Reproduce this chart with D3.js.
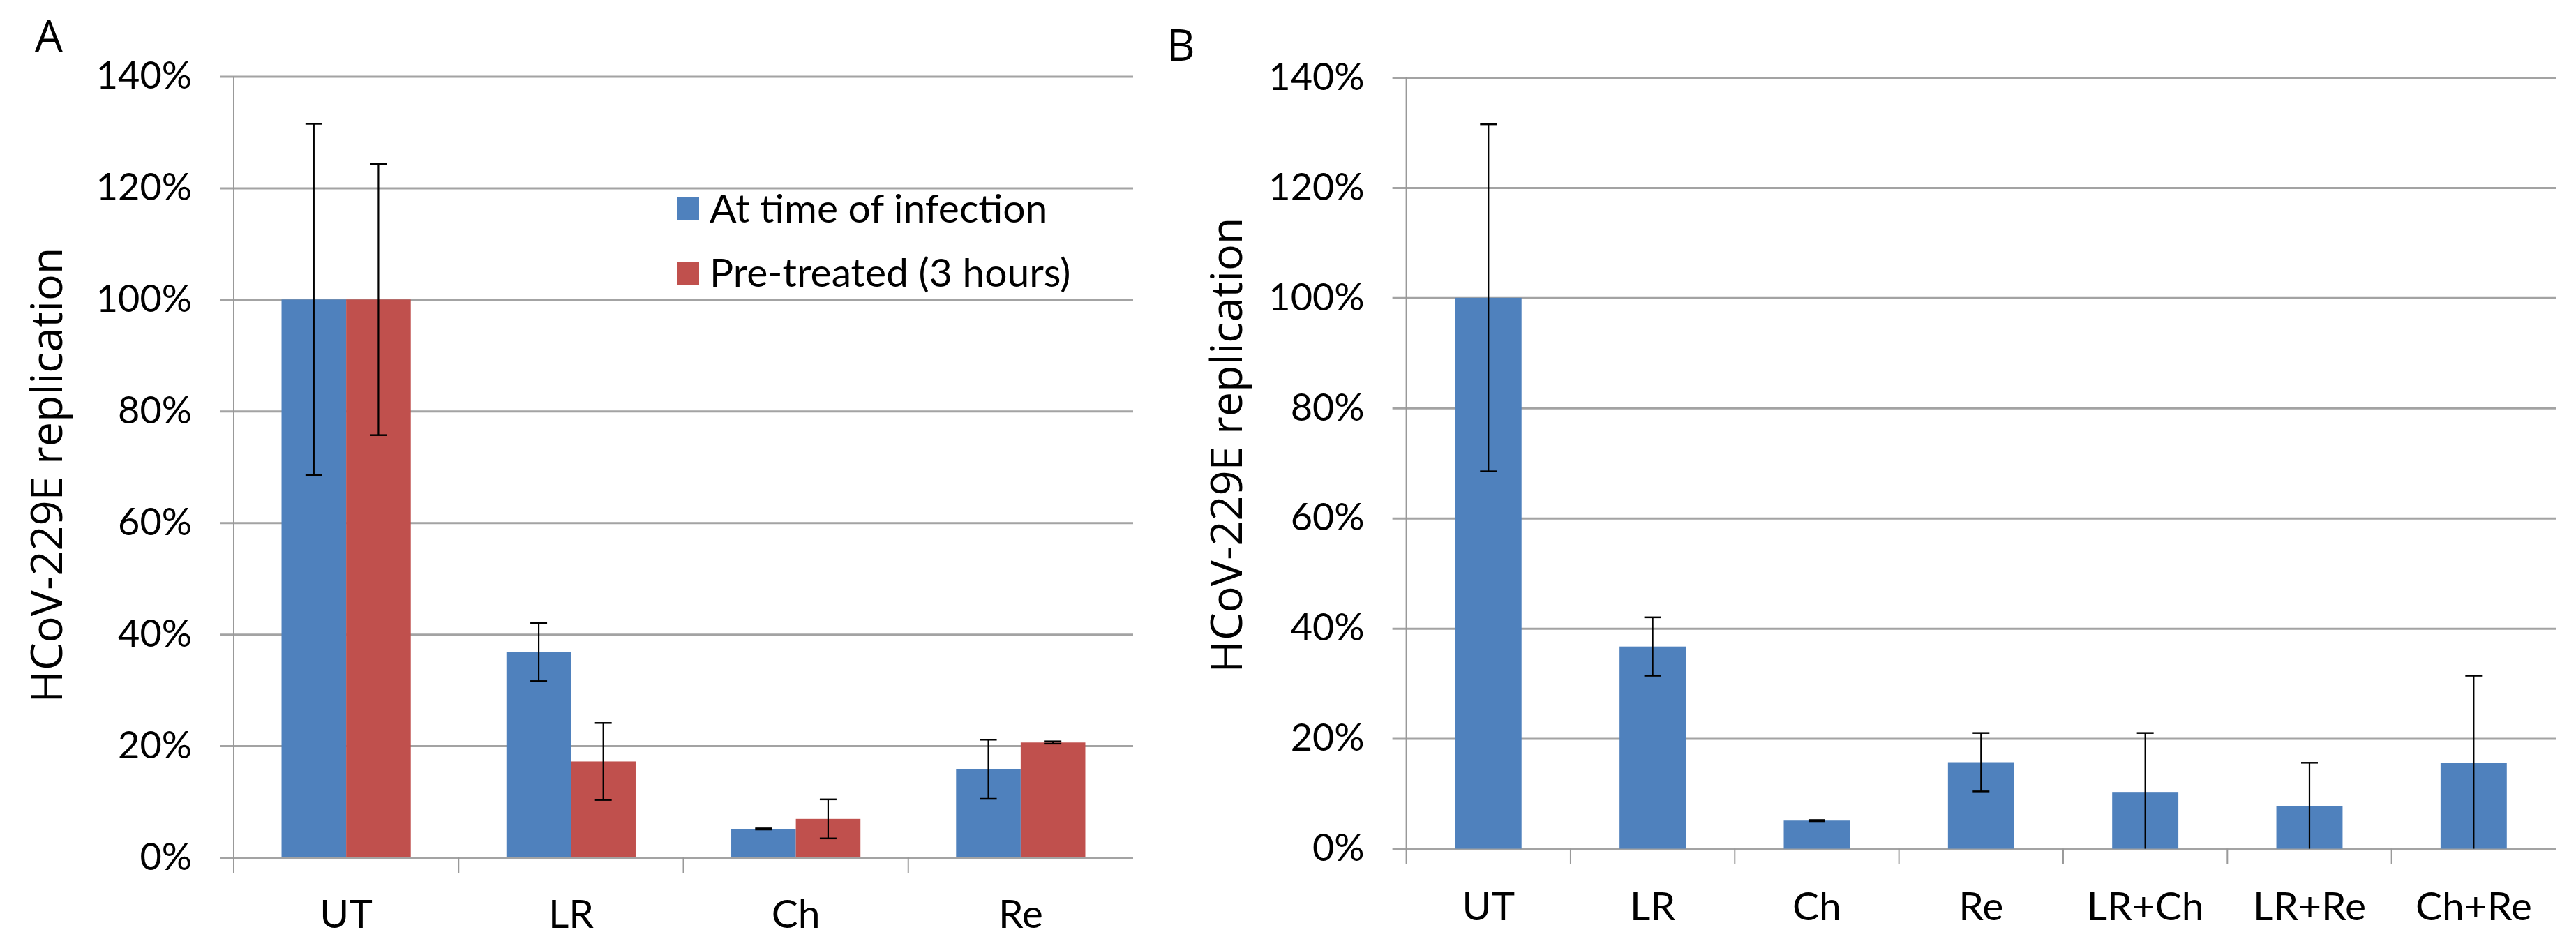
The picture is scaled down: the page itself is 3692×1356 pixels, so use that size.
<!DOCTYPE html>
<html>
<head>
<meta charset="utf-8">
<script src="https://d3js.org/d3.v7.min.js"></script>
<style>
  body { margin: 0; background: #fff; }
</style>
</head>
<body>
<svg id="chart" width="3692" height="1356"></svg>
<script>
  // values, % of untreated replication
  const categoriesA = ["UT", "LR", "Ch", "Re"];
  const seriesA = ["At time of infection", "Pre-treated (3 hours)"];
  const atInfection = [100, 36.8, 5.1, 15.8];
  const atInfectionErr = [31.5, 5.2, 0.1, 5.3];
  const preTreated = [100, 17.2, 6.9, 20.6];
  const preTreatedErr = [24.3, 6.9, 3.5, 0.2];

  const categoriesB = ["UT", "LR", "Ch", "Re", "LR+Ch", "LR+Re", "Ch+Re"];
  const combined = [100, 36.7, 5.1, 15.7, 10.3, 7.7, 15.6];
  const combinedErr = [31.5, 5.3, 0.1, 5.3, 10.7, 7.9, 15.8];

  const yTicks = [0, 20, 40, 60, 80, 100, 120, 140];
  const colors = ["#4f81bd", "#c0504d"];

  const labelFont = "Lato, 'Noto Sans', sans-serif";
  const titleFont = "'Open Sans', 'Noto Sans', sans-serif";

  let svg = d3.select("#chart");
  svg.append("rect").attr("width", 3692).attr("height", 1356).attr("fill", "white");

  function drawPanel(p) {
    let g = svg.append("g");
    let x = d3.scaleBand().domain(p.categories).range([p.left, p.right]).padding(0);
    let x1 = d3.scaleBand().domain(d3.range(p.series.length))
      .range([0, x.bandwidth()]).paddingInner(0).paddingOuter(0.74);
    let y = d3.scaleLinear().domain([0, 140]).range([p.bottom, p.top]);

    // gridlines + y labels
    let yAxis = g.append("g")
      .attr("transform", "translate(" + (p.left - 20) + ",0)")
      .call(d3.axisLeft(y).tickValues(yTicks).tickSize(-(p.right - p.left + 20))
        .tickPadding(40).tickFormat(d => d + "%"));
    yAxis.select(".domain").remove();
    yAxis.selectAll(".tick line").attr("stroke", "#a3a3a3").attr("stroke-width", 3);
    yAxis.selectAll(".tick text")
      .attr("font-family", labelFont).attr("font-size", 54).attr("fill", "#000");

    // vertical axis and category separators
    g.append("line")
      .attr("x1", p.left).attr("x2", p.left)
      .attr("y1", y(140)).attr("y2", y(0) + 22)
      .attr("stroke", "#999").attr("stroke-width", 2);
    g.selectAll(".sep").data(p.categories.slice(1)).join("line")
      .attr("x1", d => x(d)).attr("x2", d => x(d))
      .attr("y1", y(0)).attr("y2", y(0) + 22)
      .attr("stroke", "#999").attr("stroke-width", 2);

    // bars
    p.series.forEach((s, si) => {
      g.selectAll(".bar" + si).data(p.categories).join("rect")
        .attr("x", d => x(d) + x1(si))
        .attr("y", (d, i) => y(s.values[i]))
        .attr("width", x1.bandwidth())
        .attr("height", (d, i) => y(0) - y(s.values[i]))
        .attr("fill", s.color);
    });

    // error bars, cut at the 0% line like the original
    p.series.forEach((s, si) => {
      p.categories.forEach((c, i) => {
        let cx = x(c) + x1(si) + x1.bandwidth() / 2;
        let hi = s.values[i] + s.errs[i];
        let lo = s.values[i] - s.errs[i];
        g.append("line")
          .attr("x1", cx).attr("x2", cx)
          .attr("y1", y(Math.max(lo, 0))).attr("y2", y(hi))
          .attr("stroke", "#000").attr("stroke-width", 2.2);
        let caps = lo >= 0 ? [hi, lo] : [hi];
        caps.forEach(v => {
          g.append("line")
            .attr("x1", cx - 12).attr("x2", cx + 12)
            .attr("y1", y(v)).attr("y2", y(v))
            .attr("stroke", "#000").attr("stroke-width", 2.5);
        });
      });
    });

    // category labels
    g.selectAll(".cat").data(p.categories).join("text")
      .attr("x", d => x(d) + x.bandwidth() / 2)
      .attr("y", p.catBaseline)
      .attr("text-anchor", "middle")
      .attr("font-family", labelFont).attr("font-size", 57)
      .text(d => d);

    // axis title
    g.append("text")
      .attr("transform", "translate(" + p.titleX + "," + p.titleY + ") rotate(-90)")
      .attr("text-anchor", "middle")
      .attr("font-family", titleFont).attr("font-size", 63)
      .text("HCoV-229E replication");

    // panel letter
    g.append("text")
      .attr("x", p.letterX).attr("y", p.letterY)
      .attr("font-family", titleFont).attr("font-size", 63)
      .text(p.letter);

    return g;
  }

  let panelA = drawPanel({
    left: 335, right: 1624, top: 109.5, bottom: 1229,
    categories: categoriesA,
    series: [
      { values: atInfection, errs: atInfectionErr, color: colors[0] },
      { values: preTreated, errs: preTreatedErr, color: colors[1] }
    ],
    catBaseline: 1330, titleX: 89, titleY: 681,
    letter: "A", letterX: 50, letterY: 74
  });

  drawPanel({
    left: 2015.6, right: 3663, top: 111, bottom: 1216.5,
    categories: categoriesB,
    series: [{ values: combined, errs: combinedErr, color: colors[0] }],
    catBaseline: 1318.6, titleX: 1780, titleY: 638,
    letter: "B", letterX: 1672, letterY: 87
  });

  // legend for panel A
  let legend = panelA.append("g");
  seriesA.forEach((name, i) => {
    let base = 319 + i * 92;
    legend.append("rect")
      .attr("x", 970).attr("y", base - 36)
      .attr("width", 32).attr("height", 33)
      .attr("fill", colors[i]);
    legend.append("text")
      .attr("x", 1017).attr("y", base)
      .attr("font-family", labelFont).attr("font-size", 57)
      .text(name);
  });
</script>
</body>
</html>
